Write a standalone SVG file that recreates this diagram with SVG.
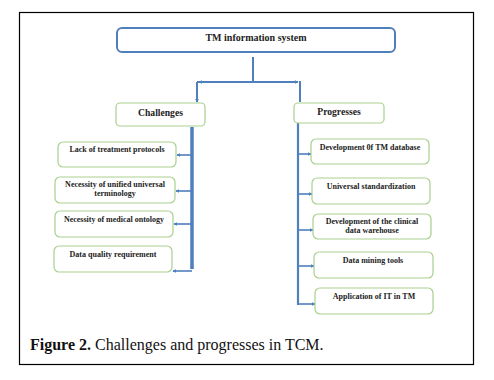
<svg xmlns="http://www.w3.org/2000/svg" width="494" height="380" viewBox="0 0 494 380">
<defs>
<marker id="ah" viewBox="0 0 6 6" refX="5" refY="3" markerWidth="4" markerHeight="4" orient="auto" markerUnits="userSpaceOnUse">
<path d="M0,0 L6,3 L0,6 z" fill="#4f7fbc"/>
</marker>
<style>
.g rect{fill:#fff;stroke:#a9d08e;stroke-width:1.2}
.t{font-family:"Liberation Serif",serif;font-weight:bold;fill:#222;text-anchor:middle}
.s{font-size:8px}
.c{stroke:#4f7fbc;fill:none}
</style>
</defs>
<rect x="0" y="0" width="494" height="380" fill="#fff"/>
<rect x="19.5" y="12.5" width="454" height="352" fill="none" stroke="#000" stroke-width="1.2"/>
<g id="connectors">
<path class="c" stroke-width="2" d="M253,57 V81"/>
<path class="c" stroke-width="2" d="M197,82 H298" marker-end="url(#ah)"/>
<path class="c" stroke-width="2" d="M253,82 H199" marker-end="url(#ah)"/>
<path class="c" stroke-width="2" d="M197,82 V102" marker-end="url(#ah)"/>
<path class="c" stroke-width="2" d="M300,81 V102"/>
<path class="c" stroke-width="3.5" d="M192,127 V269" marker-end="url(#ah)"/>
<path class="c" stroke-width="1.6" d="M192,155 H177" marker-end="url(#ah)"/>
<path class="c" stroke-width="1.6" d="M192,191 H176" marker-end="url(#ah)"/>
<path class="c" stroke-width="1.6" d="M192,224 H174" marker-end="url(#ah)"/>
<path class="c" stroke-width="1.6" d="M192,271 H173" marker-end="url(#ah)"/>
<path class="c" stroke-width="2.2" d="M298,123 V305"/>
<path class="c" stroke-width="1.6" d="M298,154 H311" marker-end="url(#ah)"/>
<path class="c" stroke-width="1.6" d="M298,194 H312" marker-end="url(#ah)"/>
<path class="c" stroke-width="1.6" d="M298,230 H313" marker-end="url(#ah)"/>
<path class="c" stroke-width="1.6" d="M298,266 H314" marker-end="url(#ah)"/>
<path class="c" stroke-width="1.6" d="M298,304 H315" marker-end="url(#ah)"/>
</g>
<g id="tm">
<rect x="117" y="28" width="278" height="24" rx="5" fill="#fff" stroke="#4f7fbc" stroke-width="2"/>
<text class="t" x="256" y="41" font-size="10">TM information system</text>
</g>
<g id="challenges" class="g">
<rect x="116" y="103" width="89" height="23" rx="4"/>
<text class="t" x="160.5" y="116" font-size="9.6">Challenges</text>
</g>
<g id="progresses" class="g">
<rect x="294" y="103" width="90" height="20" rx="4"/>
<text class="t" x="339" y="115" font-size="9.6">Progresses</text>
</g>
<g id="c1" class="g">
<rect x="58" y="142" width="118" height="25" rx="5"/>
<text class="t s" x="117" y="152">Lack of treatment protocols</text>
</g>
<g id="c2" class="g">
<rect x="55" y="177" width="120" height="26" rx="5"/>
<text class="t s" x="115" y="187">Necessity of unified universal</text>
<text class="t s" x="115" y="196">terminology</text>
</g>
<g id="c3" class="g">
<rect x="55" y="211" width="118" height="26" rx="5"/>
<text class="t s" x="114" y="222">Necessity of medical ontology</text>
</g>
<g id="c4" class="g">
<rect x="54" y="246" width="118" height="26" rx="5"/>
<text class="t s" x="113" y="257">Data quality requirement</text>
</g>
<g id="p1" class="g">
<rect x="311" y="139" width="118" height="25" rx="5"/>
<text class="t s" x="370" y="150">Development 0f TM database</text>
</g>
<g id="p2" class="g">
<rect x="312" y="178" width="118" height="26" rx="5"/>
<text class="t s" x="371" y="189">Universal standardization</text>
</g>
<g id="p3" class="g">
<rect x="313" y="214" width="118" height="25" rx="5"/>
<text class="t s" x="372" y="224">Development of the clinical</text>
<text class="t s" x="372" y="233">data warehouse</text>
</g>
<g id="p4" class="g">
<rect x="314" y="252" width="119" height="26" rx="5"/>
<text class="t s" x="373" y="263">Data mining tools</text>
</g>
<g id="p5" class="g">
<rect x="315" y="288" width="118" height="26" rx="5"/>
<text class="t s" x="374" y="299">Application of IT in TM</text>
</g>
<text x="30" y="350" font-family="'Liberation Serif',serif" font-size="16" fill="#111"><tspan font-weight="bold">Figure 2.</tspan> Challenges and progresses in TCM.</text>
</svg>
